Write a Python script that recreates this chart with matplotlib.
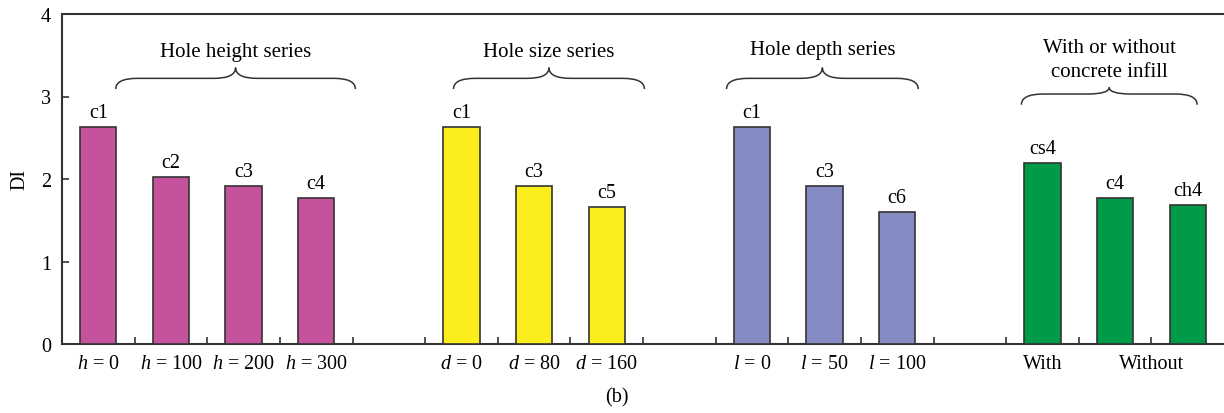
import numpy as np
import matplotlib
matplotlib.use('Agg')
import matplotlib.pyplot as plt
from matplotlib.path import Path
from matplotlib.patches import PathPatch

plt.rcParams['font.family'] = ['Liberation Serif', 'DejaVu Serif']
plt.rcParams['mathtext.fontset'] = 'custom'
plt.rcParams['mathtext.rm'] = 'Liberation Serif'
plt.rcParams['mathtext.it'] = 'Liberation Serif:italic'

# data
height_names = ['c1', 'c2', 'c3', 'c4']
height_vals = [2.63, 2.03, 1.91, 1.77]
height_ticks = ['$h$ = 0', '$h$ = 100', '$h$ = 200', '$h$ = 300']

size_names = ['c1', 'c3', 'c5']
size_vals = [2.63, 1.91, 1.66]
size_ticks = ['$d$ = 0', '$d$ = 80', '$d$ = 160']

depth_names = ['c1', 'c3', 'c6']
depth_vals = [2.63, 1.91, 1.60]
depth_ticks = ['$l$ = 0', '$l$ = 50', '$l$ = 100']

infill_names = ['cs4', 'c4', 'ch4']
infill_vals = [2.20, 1.77, 1.68]
infill_ticks = ['With', 'Without']

group_titles = ['Hole height series', 'Hole size series', 'Hole depth series',
                'With or without\nconcrete infill']
group_colors = ['#c4529c', '#fbee1c', '#858bc3', '#009b48']

groups = [(height_names, height_vals), (size_names, size_vals),
          (depth_names, depth_vals), (infill_names, infill_vals)]

fig = plt.figure(figsize=(12.24, 4.14), dpi=100)
ax = fig.add_axes([62/1224, 69/414, 1 - 62/1224, 330/414])

edge = '#333333'
fs = 14.5


def brace(ax, x0, x1, y_end, y_bar, y_tip, r=0.3):
    xm = (x0 + x1) / 2
    verts = [(x0, y_end), (x0, y_bar), (x0 + r, y_bar),
             (xm - r, y_bar),
             (xm, y_bar), (xm, y_tip),
             (xm, y_bar), (xm + r, y_bar),
             (x1 - r, y_bar),
             (x1, y_bar), (x1, y_end)]
    codes = [Path.MOVETO, Path.CURVE3, Path.CURVE3,
             Path.LINETO,
             Path.CURVE3, Path.CURVE3,
             Path.CURVE3, Path.CURVE3,
             Path.LINETO,
             Path.CURVE3, Path.CURVE3]
    ax.add_patch(PathPatch(Path(verts, codes), fill=False, lw=1.1, ec=edge))


start = 0
tick_pos = []
tick_lab = []
all_ticks = [height_ticks, size_ticks, depth_ticks, None]
brace_specs = [(0.74, 4.04, 3.09, 3.22, 3.35, 3.54),
               (5.39, 8.02, 3.09, 3.22, 3.35, 3.54),
               (9.15, 11.79, 3.09, 3.22, 3.35, 3.57),
               (13.21, 15.63, 2.90, 3.03, 3.11, 3.45)]
for gi, (names, vals) in enumerate(groups):
    pos = start + np.arange(len(vals)) + 0.5
    ax.bar(pos, vals, width=0.5, color=group_colors[gi], edgecolor=edge, linewidth=1.2, zorder=3)
    for p, v, n in zip(pos, vals, names):
        ax.text(p, v + 0.06, n, ha='center', va='bottom', fontsize=fs)
    if all_ticks[gi] is not None:
        tick_pos += list(pos)
        tick_lab += all_ticks[gi]
    else:
        tick_pos += [pos[0], (pos[1] + pos[2]) / 2]
        tick_lab += infill_ticks
    x0, x1, ye, yb, yt, ylab = brace_specs[gi]
    brace(ax, x0, x1, ye, yb, yt)
    ax.text((x0 + x1) / 2, ylab, group_titles[gi], ha='center', va='center', fontsize=15,
            linespacing=1.4)
    start += len(vals) + 1

ax.xaxis.remove_overlapping_locs = False
ax.set_xlim(0, 16)
ax.set_ylim(0, 4)
ax.set_xticks(np.arange(1, 16))
ax.set_xticklabels([])
ax.set_xticks(tick_pos, minor=True)
ax.set_xticklabels(tick_lab, minor=True, fontsize=fs)
ax.tick_params(axis='x', which='minor', length=0, pad=7)
ax.tick_params(axis='x', which='major', direction='in', length=5, width=1.2, color=edge)
ax.set_yticks([0, 1, 2, 3, 4])
ax.tick_params(axis='y', direction='in', length=5, width=1.2, color=edge, labelsize=fs, pad=8)
ax.spines['right'].set_visible(False)
for s in ['left', 'top', 'bottom']:
    ax.spines[s].set_color(edge)
    ax.spines[s].set_linewidth(1.5)
ax.set_ylabel('DI', fontsize=fs, labelpad=8)

fig.text(617/1224, 1 - 398/414, '(b)', ha='center', va='center', fontsize=fs)

fig.savefig('out.png', dpi=100)
